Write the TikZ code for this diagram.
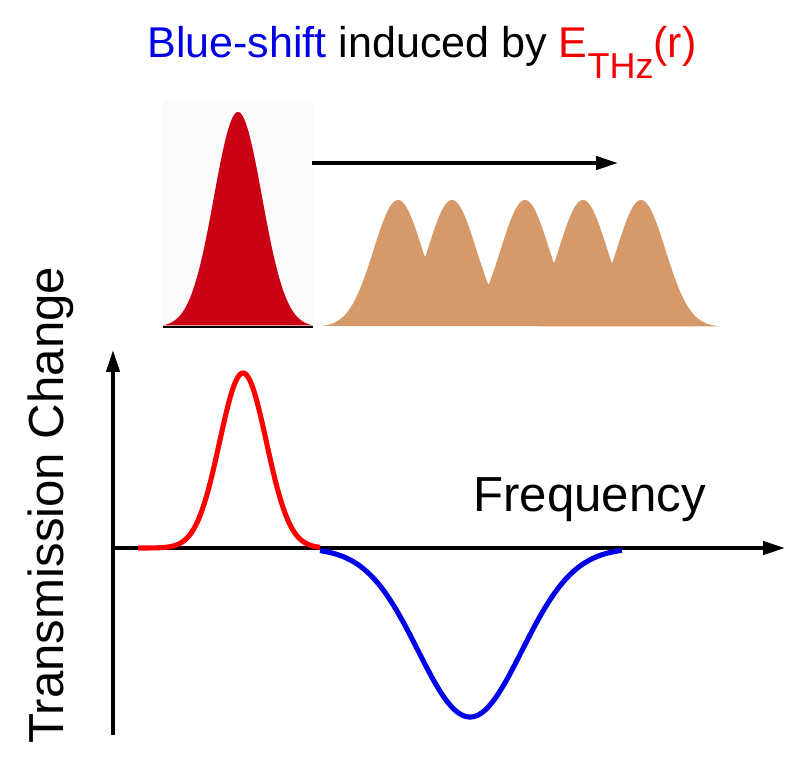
\documentclass[tikz,border=0pt]{standalone}
\usepackage{fontspec}
\setmainfont{Liberation Sans}
\usepackage{graphicx}
\usetikzlibrary{arrows.meta}
\definecolor{pulsered}{HTML}{CC0014}
\definecolor{pulsetan}{HTML}{D69A6A}
\definecolor{shiftblue}{HTML}{0000E6}
\definecolor{thzred}{HTML}{F00000}

\tikzset{
  declare function={gs(\fx,\fm,\fs)=exp(-min(((\fx-\fm)/\fs)^2/2,12));},
  axisline/.style={line width=2.2pt, -{Triangle[length=12.5pt,width=7.5pt]}},
  bigtext/.style={font=\fontsize{28}{34}\selectfont, inner sep=0pt},
}

\begin{document}
\begin{tikzpicture}[x=0.02cm, y=-0.02cm]
\useasboundingbox (0,0) rectangle (800,769);
% title
\node[anchor=base west, font=\fontsize{24.5}{29}\selectfont, inner sep=0pt] (title) at (147,57)
  {\textcolor{shiftblue}{Blue-shift} induced by \textcolor{thzred}{E\raisebox{-12pt}{\fontsize{20.5}{24}\selectfont THz}(r)}};
% pulse before and after the shift
\fill[black!1.5] (163,100) rectangle (313,327);
\fill[pulsered] plot[domain=163:313, samples=120] (\x, {327-215*gs(\x,238,24)}) -- cycle;
\draw[line width=0.8pt] (163,327) -- (313,327);
\coordinate (shiftstart) at (312,163);
\coordinate (shiftend) at (618,163);
\draw[axisline] (shiftstart) -- (shiftend);
\fill[pulsetan] plot[domain=322:722, samples=400]
  (\x, {327-127*max(gs(\x,398,24.5),gs(\x,452,24.5),gs(\x,525,24.5),gs(\x,583,24.5),gs(\x,641,24.5))}) -- cycle;
% transmission change
\coordinate (origin) at (113,548);
\coordinate (ytop) at (113,350);
\coordinate (ybottom) at (113,735);
\coordinate (xend) at (785,548);
\draw[axisline] (ybottom) -- (ytop);
\draw[axisline] (origin) -- (xend);
\draw[red, line width=2.9pt] plot[domain=138:320, samples=120] (\x, {548-175*gs(\x,243,23.4)});
\draw[shiftblue, line width=2.9pt] plot[domain=320:622, samples=150] (\x, {548+169*gs(\x,470,52)});
\node[bigtext, anchor=base west] (freq) at (473,511) {Frequency};
\node[bigtext, rotate=90, anchor=base] (ylabel) at (63,505) {Transmission Change};
\end{tikzpicture}
\end{document}
